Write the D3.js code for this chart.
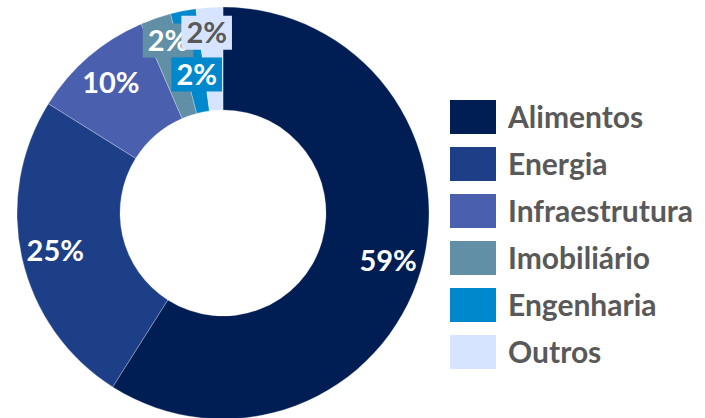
<html lang="pt">
<head>
<meta charset="UTF-8" />
<title>Carteira por setor</title>
<style>
  body { margin: 0; background: #fff; }
  text { font-family: Lato, "Open Sans", sans-serif; font-weight: 700; }
</style>
</head>
<body>
<script src="https://cdn.jsdelivr.net/npm/d3@7"></script>
<script>
// dados
const setores = ["Alimentos", "Energia", "Infraestrutura", "Imobiliário", "Engenharia", "Outros"];
const valores = [59.0, 24.9, 9.6, 2.4, 2.0, 2.1];
const rotulos = ["59%", "25%", "10%", "2%", "2%", "2%"];
const cores = ["#001e54", "#1d3f87", "#4a60ae", "#608fa6", "#0088cc", "#d7e4ff"];

let width = 705;
let height = 418;
let cx = 223, cy = 213;
let rOut = 206, rIn = 103;

// rotulos pequenos foram movidos a mao no original
let ajuste = {
  "Imobiliário": { r: 181, da: 1.4, caixa: true },
  "Engenharia": { r: 141, da: 0.4, caixa: true },
  "Outros": { r: 181, da: -1.4, caixa: true }
};

let svg = d3.select("body").append("svg")
  .attr("width", width)
  .attr("height", height);

let dados = setores.map((s, i) => ({ nome: s, valor: valores[i], rotulo: rotulos[i], cor: cores[i] }));

let pie = d3.pie().sort(null).value(d => d.valor);
let arc = d3.arc().innerRadius(rIn).outerRadius(rOut);
let arcs = pie(dados);

let g = svg.append("g").attr("transform", `translate(${cx},${cy})`);

g.selectAll("path")
  .data(arcs)
  .enter()
  .append("path")
  .attr("d", arc)
  .attr("fill", d => d.data.cor)
  .attr("stroke", "#ffffff")
  .attr("stroke-opacity", 0.35)
  .attr("stroke-width", 0.75);

let fs = 29;
arcs.forEach(a => {
  let aj = ajuste[a.data.nome] || { r: 172, da: 0, caixa: false };
  let ang = (a.startAngle + a.endAngle) / 2 + aj.da * Math.PI / 180;
  let x = aj.r * Math.sin(ang);
  let y = -aj.r * Math.cos(ang);
  let lg = g.append("g");
  let t = lg.append("text")
    .attr("x", x)
    .attr("y", y + 0.355 * fs)
    .attr("text-anchor", "middle")
    .attr("font-size", fs)
    .attr("fill", a.data.nome === "Outros" ? "#595959" : "#ffffff")
    .text(a.data.rotulo);
  if (aj.caixa) {
    let b = t.node().getBBox();
    lg.insert("rect", "text")
      .attr("x", b.x - 5)
      .attr("y", y - 17)
      .attr("width", b.width + 10)
      .attr("height", 34)
      .attr("fill", a.data.cor);
  }
});

// legenda
let leg = svg.append("g").attr("transform", "translate(450,100)");
let item = leg.selectAll("g")
  .data(dados)
  .enter()
  .append("g")
  .attr("transform", (d, i) => `translate(0,${i * 47})`);

item.append("rect")
  .attr("width", 46)
  .attr("height", 34)
  .attr("fill", d => d.cor);

item.append("text")
  .attr("x", 58)
  .attr("y", 28)
  .attr("font-size", 30)
  .attr("fill", "#595959")
  .text(d => d.nome);
</script>
</body>
</html>
